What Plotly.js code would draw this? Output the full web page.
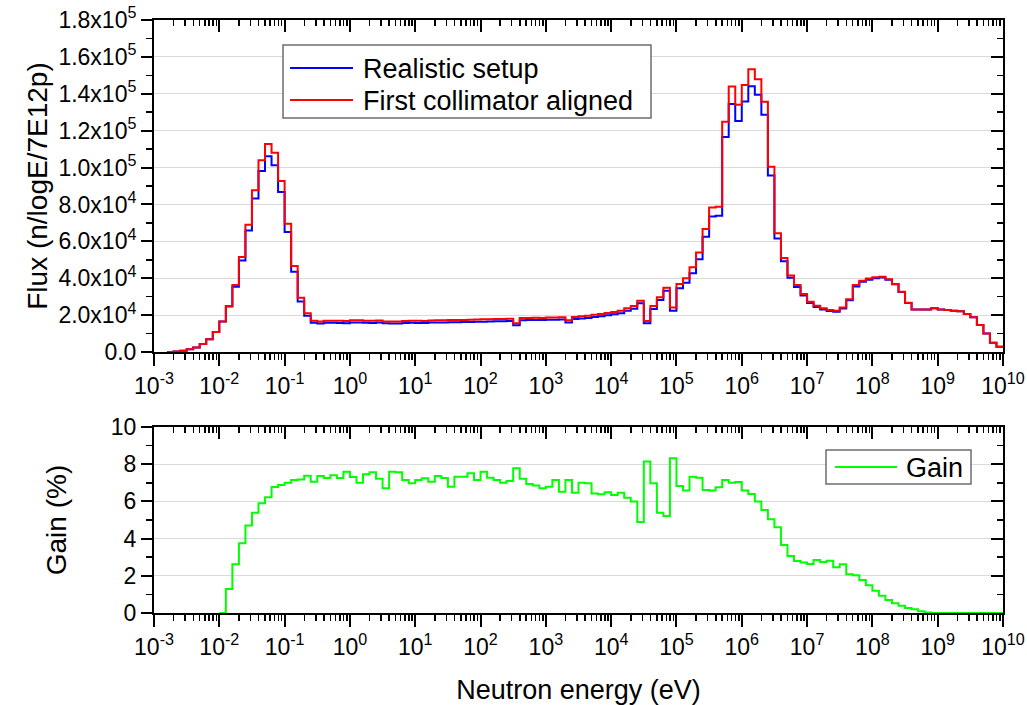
<!DOCTYPE html>
<html>
<head>
<meta charset="utf-8">
<script src="https://cdn.plot.ly/plotly-3.0.1.min.js"></script>
<style>
  html, body { margin: 0; padding: 0; background: #ffffff; }
  #chart { width: 1027px; height: 705px; }
</style>
</head>
<body>
<div id="chart"></div>
<script>
// ---- Binning: 10 logarithmic bins per decade, from 1e-3 eV to 1e10 eV ----
const firstDecade = -3;
const lastDecade = 10;
const binsPerDecade = 10;

// ---- Flux per bin, in units of 1e4 n/logE/7E12p ----
const fluxRealistic_e4 = [
  null, null, 0, 0.03, 0.07, 0.15, 0.25, 0.43, 0.69, 1.08,
  1.66, 2.47, 3.54, 4.96, 6.59, 8.32, 9.82, 10.62, 10.12, 8.67,
  6.50, 4.35, 2.74, 1.96, 1.59, 1.55, 1.585, 1.583, 1.576, 1.561,
  1.603, 1.607, 1.582, 1.580, 1.595, 1.556, 1.543, 1.543, 1.568, 1.589,
  1.577, 1.567, 1.597, 1.602, 1.604, 1.620, 1.612, 1.621, 1.628, 1.643,
  1.645, 1.659, 1.670, 1.673, 1.681, 1.447, 1.716, 1.730, 1.741, 1.734,
  1.751, 1.745, 1.765, 1.605, 1.785, 1.813, 1.842, 1.898, 1.936, 1.991,
  2.041, 2.104, 2.232, 2.349, 2.650, 1.554, 2.328, 2.818, 3.317, 2.234,
  3.454, 3.753, 4.277, 5.025, 6.256, 7.347, 7.381, 11.657, 13.449, 12.519,
  13.586, 14.408, 13.954, 12.858, 9.568, 6.156, 4.920, 4.027, 3.531, 3.067,
  2.660, 2.440, 2.307, 2.218, 2.186, 2.358, 2.802, 3.558, 3.803, 3.922,
  4.002, 4.042, 3.913, 3.671, 3.257, 2.663, 2.305, 2.308, 2.309, 2.37,
  2.31, 2.28, 2.24, 2.21, 2.06, 1.88, 1.46, 1.01, 0.50, 0.29
];

const fluxAligned_e4 = [
  null, null, 0, 0.03, 0.07, 0.15, 0.25, 0.43, 0.69, 1.08,
  1.66, 2.50, 3.63, 5.15, 6.90, 8.77, 10.40, 11.28, 10.80, 9.27,
  6.96, 4.66, 2.94, 2.10, 1.70, 1.66, 1.70, 1.70, 1.69, 1.68,
  1.72, 1.72, 1.70, 1.70, 1.71, 1.66, 1.66, 1.66, 1.68, 1.70,
  1.69, 1.68, 1.71, 1.72, 1.72, 1.73, 1.73, 1.74, 1.75, 1.76,
  1.77, 1.78, 1.79, 1.79, 1.80, 1.56, 1.84, 1.85, 1.86, 1.85,
  1.87, 1.87, 1.88, 1.72, 1.90, 1.94, 1.97, 2.02, 2.06, 2.12,
  2.17, 2.24, 2.37, 2.49, 2.78, 1.68, 2.49, 2.97, 3.49, 2.42,
  3.69, 4.00, 4.59, 5.39, 6.67, 7.83, 7.88, 12.49, 14.39, 13.40,
  14.48, 15.33, 14.79, 13.57, 10.05, 6.44, 5.10, 4.15, 3.63, 3.15,
  2.73, 2.51, 2.37, 2.28, 2.24, 2.42, 2.86, 3.63, 3.87, 3.98,
  4.05, 4.08, 3.94, 3.69, 3.27, 2.67, 2.31, 2.31, 2.31, 2.37,
  2.31, 2.28, 2.24, 2.21, 2.06, 1.88, 1.46, 1.01, 0.50, 0.29
];

// ---- Gain per bin (%) ----
const gainPercent = [
  null, null, null, null, null, null, null, null, null, null,
  0, 1.29, 2.62, 3.75, 4.71, 5.39, 5.90, 6.22, 6.77, 6.88,
  7.00, 7.15, 7.17, 7.38, 7.06, 7.37, 7.26, 7.40, 7.26, 7.60,
  7.31, 7.00, 7.46, 7.56, 7.22, 6.70, 7.60, 7.56, 7.15, 6.97,
  7.15, 7.24, 7.06, 7.37, 7.26, 6.79, 7.33, 7.33, 7.51, 7.15,
  7.60, 7.27, 7.15, 7.00, 7.10, 7.78, 7.22, 6.94, 6.85, 6.70,
  6.79, 7.15, 6.52, 7.15, 6.47, 7.00, 6.97, 6.43, 6.38, 6.49,
  6.34, 6.47, 6.20, 5.99, 4.89, 8.14, 6.97, 5.39, 5.22, 8.32,
  6.83, 6.58, 7.33, 7.27, 6.61, 6.58, 6.76, 7.15, 7.00, 7.04,
  6.58, 6.40, 5.99, 5.54, 5.04, 4.61, 3.66, 3.06, 2.80, 2.71,
  2.63, 2.85, 2.74, 2.81, 2.46, 2.62, 2.08, 2.03, 1.77, 1.49,
  1.20, 0.93, 0.70, 0.52, 0.39, 0.27, 0.20, 0.09, 0.03, 0,
  0, 0, 0, 0, 0, 0, 0, 0, 0, 0
];

// ---- Series names, colours and tick labels ----
const seriesNames = ['Realistic setup', 'First collimator aligned', 'Gain'];
const seriesColors = ['#0000ff', '#ff0000', '#00ff00'];
const fluxTickVals = [0, 2e4, 4e4, 6e4, 8e4, 1e5, 1.2e5, 1.4e5, 1.6e5, 1.8e5];
const fluxTickText = ['0.0', '2.0x10<sup>4</sup>', '4.0x10<sup>4</sup>', '6.0x10<sup>4</sup>',
  '8.0x10<sup>4</sup>', '1.0x10<sup>5</sup>', '1.2x10<sup>5</sup>', '1.4x10<sup>5</sup>',
  '1.6x10<sup>5</sup>', '1.8x10<sup>5</sup>'];
const gainTickVals = [0, 2, 4, 6, 8, 10];
const gainTickText = ['0', '2', '4', '6', '8', '10'];
const decadeExponents = [-3, -2, -1, 0, 1, 2, 3, 4, 5, 6, 7, 8, 9, 10];

// ---- Build step-histogram coordinates (left bin edges + closing edge) ----
const nBins = (lastDecade - firstDecade) * binsPerDecade;
const edges = [];
for (let k = 0; k <= nBins; k++) edges.push(Math.pow(10, firstDecade + k / binsPerDecade));
function stepY(values, scale) {
  const out = values.map(v => (v === null ? null : v * scale));
  out.push(out[out.length - 1]);
  return out;
}

const energyTickVals = decadeExponents.map(p => Math.pow(10, p));
const energyTickText = decadeExponents.map(p => '10<sup>' + p + '</sup>');
const minorEnergyTicks = [];
for (let p = firstDecade; p < lastDecade; p++) {
  for (let m = 2; m <= 9; m++) minorEnergyTicks.push(m * Math.pow(10, p));
}

const FONT = 'Liberation Sans, Arial, Helvetica, sans-serif';

const traces = [
  {
    x: edges, y: stepY(fluxRealistic_e4, 1e4),
    xaxis: 'x', yaxis: 'y', type: 'scatter', mode: 'lines',
    line: { shape: 'hv', color: seriesColors[0], width: 2 },
    name: seriesNames[0], showlegend: false, connectgaps: false
  },
  {
    x: edges, y: stepY(fluxAligned_e4, 1e4),
    xaxis: 'x', yaxis: 'y', type: 'scatter', mode: 'lines',
    line: { shape: 'hv', color: seriesColors[1], width: 2 },
    name: seriesNames[1], showlegend: false, connectgaps: false
  },
  {
    x: edges, y: stepY(gainPercent, 1),
    xaxis: 'x2', yaxis: 'y2', type: 'scatter', mode: 'lines',
    line: { shape: 'hv', color: seriesColors[2], width: 2 },
    name: seriesNames[2], showlegend: false, connectgaps: false
  },
  // invisible helpers so the mirrored (inward-ticked) frame axes are drawn
  { x: [1], y: [0], xaxis: 'x3', yaxis: 'y3', mode: 'markers', marker: { opacity: 0 },
    showlegend: false, hoverinfo: 'skip' },
  { x: [1], y: [0], xaxis: 'x4', yaxis: 'y4', mode: 'markers', marker: { opacity: 0 },
    showlegend: false, hoverinfo: 'skip' }
];

const topDomain = [0.4401, 1];
const botDomain = [0, 0.3137];

function energyAxis(extra) {
  return Object.assign({
    type: 'log', range: [firstDecade, lastDecade], autorange: false,
    tickmode: 'array', tickvals: energyTickVals, ticktext: energyTickText,
    ticks: 'outside', ticklen: 12, tickwidth: 2, tickcolor: '#000',
    showline: true, linecolor: '#000', linewidth: 2,
    showgrid: false, zeroline: false,
    tickfont: { family: FONT, size: 23, color: '#000' },
    minor: { tickmode: 'array', tickvals: minorEnergyTicks, ticks: 'outside',
             ticklen: 6, tickwidth: 1.5, tickcolor: '#000', showgrid: false }
  }, extra);
}
function frameX(overlay, anchor) {
  return {
    type: 'log', range: [firstDecade, lastDecade], autorange: false,
    overlaying: overlay, anchor: anchor, side: 'top',
    tickmode: 'array', tickvals: energyTickVals, showticklabels: false,
    ticks: 'inside', ticklen: 12, tickwidth: 2, tickcolor: '#000',
    showline: true, linecolor: '#000', linewidth: 2, showgrid: false, zeroline: false,
    minor: { tickmode: 'array', tickvals: minorEnergyTicks, ticks: 'inside',
             ticklen: 6, tickwidth: 1.5, tickcolor: '#000', showgrid: false }
  };
}
function frameY(overlay, anchor, range, vals, minorStep) {
  return {
    range: range, autorange: false, overlaying: overlay, anchor: anchor, side: 'right',
    tickmode: 'array', tickvals: vals, showticklabels: false,
    ticks: 'inside', ticklen: 12, tickwidth: 2, tickcolor: '#000',
    showline: true, linecolor: '#000', linewidth: 2, showgrid: false, zeroline: false,
    minor: { dtick: minorStep, ticks: 'inside', ticklen: 6, tickwidth: 1.5,
             tickcolor: '#000', showgrid: false }
  };
}

// ---- Legend boxes (drawn with shapes + annotations so the line samples are long) ----
const L = 154, R = 1003, T = 20, B = 613;
const px = v => (v - L) / (R - L);
const py = v => (B - v) / (B - T);
const legendFont = { family: FONT, size: 27, color: '#000' };

const shapes = [
  { type: 'rect', xref: 'paper', yref: 'paper', x0: px(283), x1: px(651), y0: py(118), y1: py(45),
    line: { color: '#6e6e6e', width: 1.5 }, fillcolor: '#ffffff', layer: 'above' },
  { type: 'line', xref: 'paper', yref: 'paper', x0: px(290), x1: px(353), y0: py(68), y1: py(68),
    line: { color: seriesColors[0], width: 2 }, layer: 'above' },
  { type: 'line', xref: 'paper', yref: 'paper', x0: px(290), x1: px(353), y0: py(100), y1: py(100),
    line: { color: seriesColors[1], width: 2 }, layer: 'above' },
  { type: 'rect', xref: 'paper', yref: 'paper', x0: px(826), x1: px(971), y0: py(484), y1: py(450),
    line: { color: '#6e6e6e', width: 1.5 }, fillcolor: '#ffffff', layer: 'above' },
  { type: 'line', xref: 'paper', yref: 'paper', x0: px(835), x1: px(897), y0: py(467), y1: py(467),
    line: { color: seriesColors[2], width: 2 }, layer: 'above' }
];
const annotations = [
  { text: seriesNames[0], xref: 'paper', yref: 'paper', x: px(361), y: py(69),
    xanchor: 'left', yanchor: 'middle', showarrow: false, font: legendFont },
  { text: seriesNames[1], xref: 'paper', yref: 'paper', x: px(361), y: py(101),
    xanchor: 'left', yanchor: 'middle', showarrow: false, font: legendFont },
  { text: seriesNames[2], xref: 'paper', yref: 'paper', x: px(904), y: py(468),
    xanchor: 'left', yanchor: 'middle', showarrow: false, font: legendFont }
];

const layout = {
  width: 1027, height: 705,
  margin: { l: 154, r: 24, t: 20, b: 92 },
  paper_bgcolor: '#ffffff', plot_bgcolor: '#ffffff',
  font: { family: FONT, color: '#000' },
  showlegend: false,
  xaxis: energyAxis({ anchor: 'y', domain: [0, 1] }),
  xaxis2: energyAxis({
    anchor: 'y2', domain: [0, 1],
    title: { text: 'Neutron energy (eV)', font: { family: FONT, size: 27, color: '#000' }, standoff: 32 }
  }),
  yaxis: {
    domain: topDomain, anchor: 'x', range: [0, 180000], autorange: false,
    tickmode: 'array', tickvals: fluxTickVals, ticktext: fluxTickText,
    ticks: 'outside', ticklen: 11, tickwidth: 2, tickcolor: '#000',
    showline: true, linecolor: '#000', linewidth: 2,
    showgrid: true, gridcolor: '#dadada', gridwidth: 1, zeroline: false,
    tickfont: { family: FONT, size: 23, color: '#000' },
    minor: { dtick: 10000, ticks: 'outside', ticklen: 6, tickwidth: 1.5, tickcolor: '#000', showgrid: false },
    title: { text: 'Flux (n/logE/7E12p)', font: { family: FONT, size: 28, color: '#000' }, standoff: 3 }
  },
  yaxis2: {
    domain: botDomain, anchor: 'x2', range: [0, 10], autorange: false,
    tickmode: 'array', tickvals: gainTickVals, ticktext: gainTickText,
    ticks: 'outside', ticklen: 11, tickwidth: 2, tickcolor: '#000',
    showline: true, linecolor: '#000', linewidth: 2,
    showgrid: true, gridcolor: '#dadada', gridwidth: 1, zeroline: false,
    tickfont: { family: FONT, size: 23, color: '#000' },
    minor: { dtick: 1, ticks: 'outside', ticklen: 6, tickwidth: 1.5, tickcolor: '#000', showgrid: false },
    title: { text: 'Gain (%)', font: { family: FONT, size: 28, color: '#000' }, standoff: 36 }
  },
  xaxis3: frameX('x', 'y'),
  yaxis3: frameY('y', 'x', [0, 180000], fluxTickVals, 10000),
  xaxis4: frameX('x2', 'y2'),
  yaxis4: frameY('y2', 'x2', [0, 10], gainTickVals, 1),
  shapes: shapes,
  annotations: annotations
};

Plotly.newPlot('chart', traces, layout, { displayModeBar: false, staticPlot: true });
</script>
</body>
</html>
